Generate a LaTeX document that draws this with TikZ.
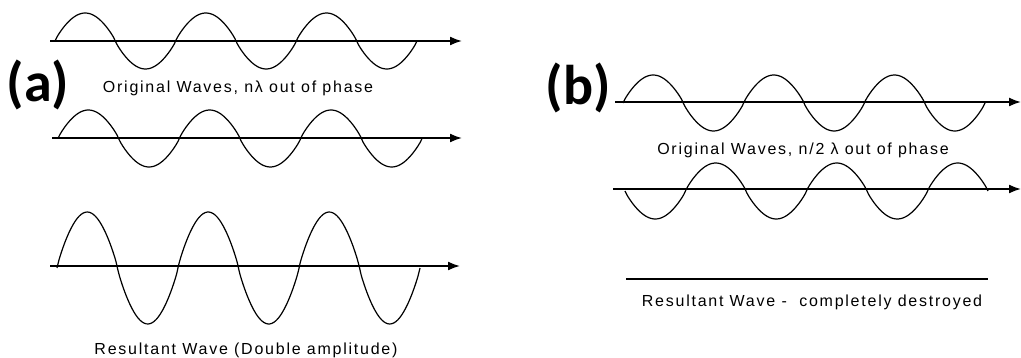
\documentclass[tikz,border=0pt]{standalone}
\usepackage{fontspec}
\setmainfont{Liberation Sans}
\newfontfamily\labelfont{Carlito}
\newfontfamily\capfont[LetterSpace=11]{Liberation Sans}
\usetikzlibrary{arrows.meta}
\begin{document}
\begin{tikzpicture}[x=1pt,y=-1pt,
  declare function={rw(\t)=sin(\t)*(abs(sin(\t))+0.001)^(-0.15);},
  axisline/.style={line width=1.7pt,-{Latex[length=12pt,width=9pt]}},
  flatline/.style={line width=1.8pt},
  wave/.style={line width=1.2pt,smooth,samples=180},
  caption/.style={font=\capfont\fontsize{16}{19}\selectfont,inner sep=0pt},
  panel/.style={font=\labelfont\bfseries\fontsize{56}{66}\selectfont,inner sep=0pt}]
\useasboundingbox (0,0) rectangle (1021,358);
% ---------- panel (a) ----------
\node[panel] (la) at (38,85) {(a)};
\coordinate (a1s) at (50,41);  \coordinate (a1e) at (462,41);
\coordinate (a2s) at (52,138); \coordinate (a2e) at (462,138);
\coordinate (a3s) at (50,266); \coordinate (a3e) at (460,266);
\draw[axisline] (a1s) -- (a1e);
\draw[axisline] (a2s) -- (a2e);
\draw[axisline] (a3s) -- (a3e);
\draw[wave,domain=55:417] plot (\x,{41-28*rw((\x-55)/60.33*180)});
\draw[wave,domain=58:422] plot (\x,{138.5-28.5*rw((\x-58)/60.67*180)});
\draw[wave,domain=57:420] plot (\x,{268-56*rw((\x-57)/60.5*180)});
\node[caption] (ca1) at (238,88) {Original Waves, nλ out of phase};
\node[caption] (ca2) at (246,350) {Resultant Wave (Double amplitude)};
% ---------- panel (b) ----------
\node[panel] (lb) at (578,88) {(b)};
\coordinate (b1s) at (615,102); \coordinate (b1e) at (1021,102);
\coordinate (b2s) at (613,189); \coordinate (b2e) at (1021,189);
\coordinate (b3s) at (626,279); \coordinate (b3e) at (988,279);
\draw[axisline] (b1s) -- (b1e);
\draw[axisline] (b2s) -- (b2e);
\draw[flatline] (b3s) -- (b3e);
\draw[wave,domain=623:985] plot (\x,{103-28*rw((\x-623)/60.33*180)});
\draw[wave,domain=625:988] plot (\x,{191+28*rw((\x-625)/60.5*180)});
\node[caption] (cb1) at (803,150) {Original Waves, n/2 λ out of phase};
\node[caption] (cb2) at (812,302) {Resultant Wave -\ \ completely destroyed};
\end{tikzpicture}
\end{document}
